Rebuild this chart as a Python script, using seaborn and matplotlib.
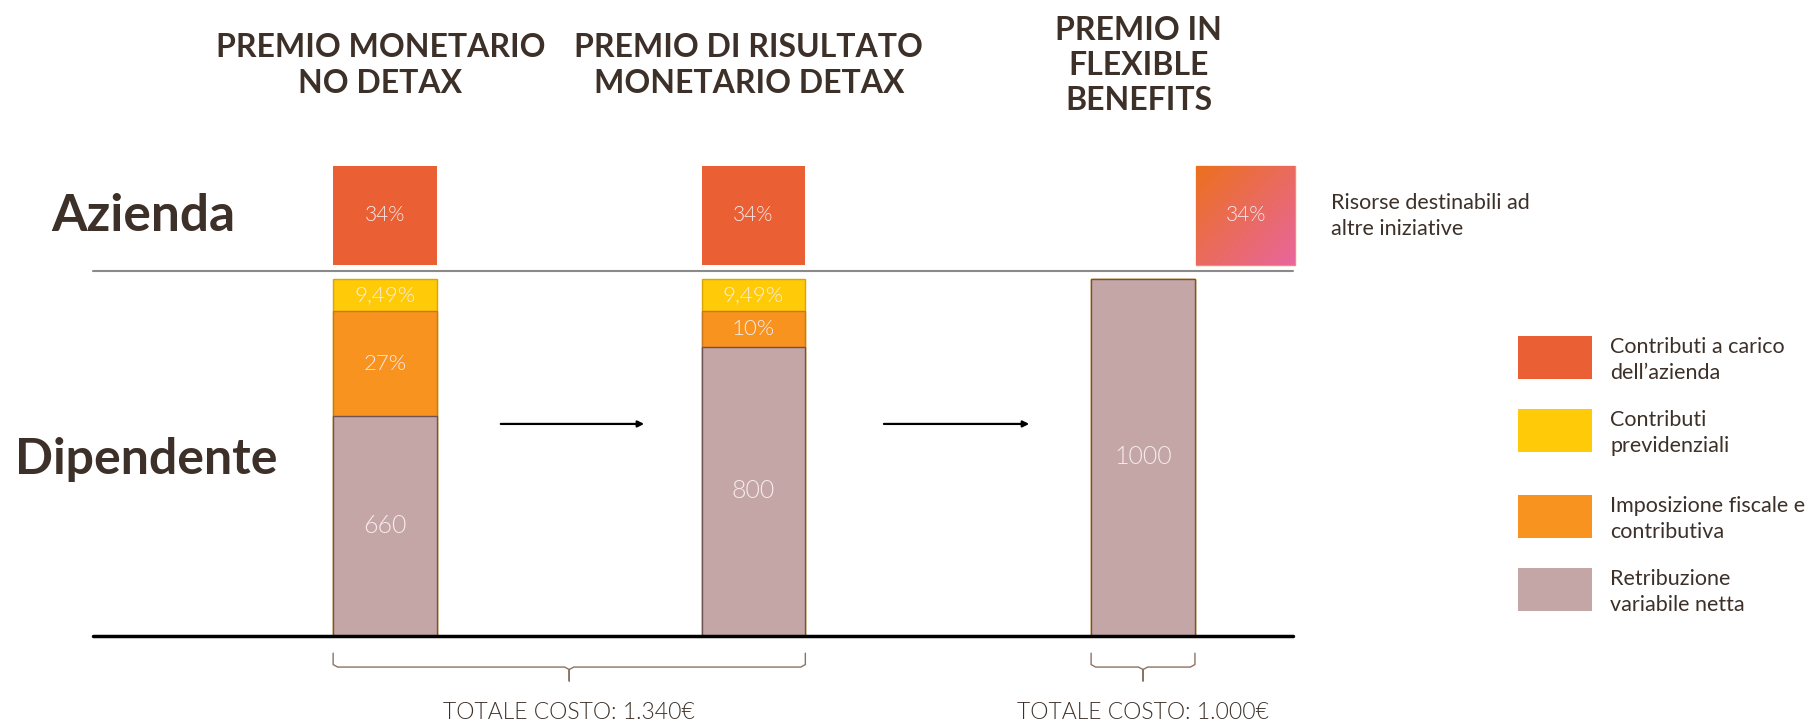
import numpy as np
import pandas as pd
import matplotlib.pyplot as plt
import seaborn as sns
from matplotlib.patches import Rectangle

# values (bar heights in the chart's own visual units)
schemes = ["PREMIO MONETARIO\nNO DETAX", "PREMIO DI RISULTATO\nMONETARIO DETAX", "PREMIO IN\nFLEXIBLE\nBENEFITS"]
netta = [615, 810, 1000]      # retribuzione variabile netta
fiscale = [295, 100, 0]       # imposizione fiscale e contributiva
previd = [90, 90, 0]          # contributi previdenziali
azienda = [278, 278, 278]     # contributi a carico dell'azienda
netta_lbl = ["660", "800", "1000"]
fiscale_lbl = ["27%", "10%", ""]
previd_lbl = ["9,49%", "9,49%", ""]
azienda_lbl = ["34%", "34%", "34%"]
totali = ["TOTALE COSTO: 1.340€", "TOTALE COSTO: 1.000€"]
legend_lbl = ["Contributi a carico\ndell\u2019azienda", "Contributi\nprevidenziali",
              "Imposizione fiscale e\ncontributiva", "Retribuzione\nvariabile netta"]

# layout: column positions (the middle one sits a bit left of centre)
xpos = [0, 0.972, 2]

AZ, YEL, ORA, ROSE = "#EA5F33", "#FFCA08", "#F7931E", "#C4A6A7"
DARK = "#3C3028"
LBL = "#F6ECEC"
W = 0.274
LIGHT = 300

df = pd.DataFrame({"pos": xpos, "netta": netta, "fiscale": fiscale, "previd": previd, "azienda": azienda})
df["fisc_top"] = df["netta"] + df["fiscale"]
df["prev_top"] = df["fisc_top"] + df["previd"]

sns.set_style("white")
plt.rcParams["font.family"] = ["Lato", "DejaVu Sans"]

fig = plt.figure(figsize=(18.18, 7.28), dpi=100)
ax = fig.add_axes([0, 0, 1, 1])

wn = W / 0.972  # seaborn scales width by the smallest gap between columns
# stacked columns, drawn back to front
sns.barplot(data=df, x="pos", y="prev_top", native_scale=True, color=YEL, saturation=1, width=wn,
            edgecolor="#D9A500", linewidth=1, ax=ax)
sns.barplot(data=df, x="pos", y="fisc_top", native_scale=True, color=ORA, saturation=1, width=wn,
            edgecolor="#C9761C", linewidth=1, ax=ax)
sns.barplot(data=df, x="pos", y="netta", native_scale=True, color=ROSE, saturation=1, width=wn,
            edgecolor="#6E5252", linewidth=1, ax=ax)

# company boxes above the separator
AZ_BOTTOM = 1039
sns.barplot(data=df.iloc[:2], x="pos", y="azienda", native_scale=True, color=AZ, saturation=1,
            width=wn, bottom=AZ_BOTTOM, linewidth=0, ax=ax)

# third box shifted right, with orange->pink gradient
left3 = xpos[2] + W / 2 + 0.004
w3 = 0.261
box3 = ax.bar(left3, df["azienda"][2], width=w3, bottom=AZ_BOTTOM, align="edge",
              color="none", edgecolor="#F0905A", linewidth=1)[0]
n = 60
u = np.linspace(0, 1, n)
t = (u[None, :] + u[:, None]) / 2
c1 = np.array([0xEC, 0x70, 0x1E]) / 255
c2 = np.array([0xE8, 0x66, 0x9C]) / 255
grad = c1[None, None, :] * (1 - t[..., None]) + c2[None, None, :] * t[..., None]
im = ax.imshow(grad, extent=[left3, left3 + w3, AZ_BOTTOM, AZ_BOTTOM + df["azienda"][2]],
               aspect="auto", origin="upper", zorder=3)
im.set_clip_path(box3)

# segment labels
for i, x in enumerate(xpos):
    ax.text(x, netta[i] / 2, netta_lbl[i], ha="center", va="center", color=LBL, fontsize=18, fontweight=LIGHT)
    if fiscale_lbl[i]:
        ax.text(x, netta[i] + fiscale[i] / 2, fiscale_lbl[i], ha="center", va="center",
                color=LBL, fontsize=16, fontweight=LIGHT)
    if previd_lbl[i]:
        ax.text(x, netta[i] + fiscale[i] + previd[i] / 2, previd_lbl[i], ha="center", va="center",
                color=LBL, fontsize=16, fontweight=LIGHT)
for i in range(2):
    ax.text(xpos[i], AZ_BOTTOM + azienda[i] / 2, azienda_lbl[i], ha="center", va="center",
            color=LBL, fontsize=15, fontweight=LIGHT)
ax.text(left3 + w3 / 2, AZ_BOTTOM + azienda[2] / 2, azienda_lbl[2], ha="center", va="center",
        color=LBL, fontsize=15, fontweight=LIGHT, zorder=4)

# headings
for x, s in zip(xpos, schemes):
    ax.text(x - 0.012, 1598, s, ha="center", va="center", color=DARK, fontsize=23,
            fontweight="bold", linespacing=1.27)

ax.text(-0.881, 1176, "Azienda", ha="left", va="center", color=DARK, fontsize=37, fontweight="bold")
ax.text(-0.976, 493, "Dipendente", ha="left", va="center", color=DARK, fontsize=36, fontweight="bold")
ax.text(2.496, 1176, "Risorse destinabili ad\naltre iniziative", ha="left", va="center",
        color=DARK, fontsize=15.5, linespacing=1.4)

# separator and base line
ax.plot([-0.77, 2.396], [1022, 1022], color="#8A8A8A", lw=1.5)
ax.plot([-0.77, 2.396], [0, 0], color="black", lw=2.5, zorder=5)

# arrows
for x0, x1 in [(0.298, 0.691), (1.309, 1.707)]:
    ax.annotate("", xy=(x1, 594), xytext=(x0, 594),
                arrowprops=dict(arrowstyle="-|>", color="black", lw=1.6, mutation_scale=9))

# braces and totals
def brace(xl, xr):
    xm = (xl + xr) / 2
    d = 0.012
    xs = [xl, xl, xl + d, xm - d, xm, xm, xm, xm + d, xr - d, xr, xr]
    ys = [-48, -80, -87, -87, -94, -126, -94, -87, -87, -80, -48]
    ax.plot(xs, ys, color="#8C7262", lw=1)
    return xm

spans = [(xpos[0] - W / 2, xpos[1] + W / 2), (xpos[2] - W / 2, xpos[2] + W / 2)]
for (xl, xr), txt in zip(spans, totali):
    xm = brace(xl, xr)
    ax.text(xm, -213, txt, ha="center", va="center", color=DARK, fontsize=16.5, fontweight=LIGHT)

ax.set_xlim(-1.016, 3.781)
ax.set_ylim(-257.7, 1781.5)
ax.axis("off")

# legend
leg_cols = [AZ, YEL, ORA, ROSE]
leg_top = [336, 409, 495, 568]
for col, top, lab in zip(leg_cols, leg_top, legend_lbl):
    fig.add_artist(Rectangle((1518 / 1818, 1 - (top + 43) / 728), 74 / 1818, 43 / 728,
                             transform=fig.transFigure, facecolor=col, edgecolor="none"))
    fig.text(1610 / 1818, 1 - (top + 24) / 728, lab, ha="left", va="center", color=DARK,
             fontsize=15.5, linespacing=1.4)

fig.savefig("out.png", dpi=100, facecolor="white")
